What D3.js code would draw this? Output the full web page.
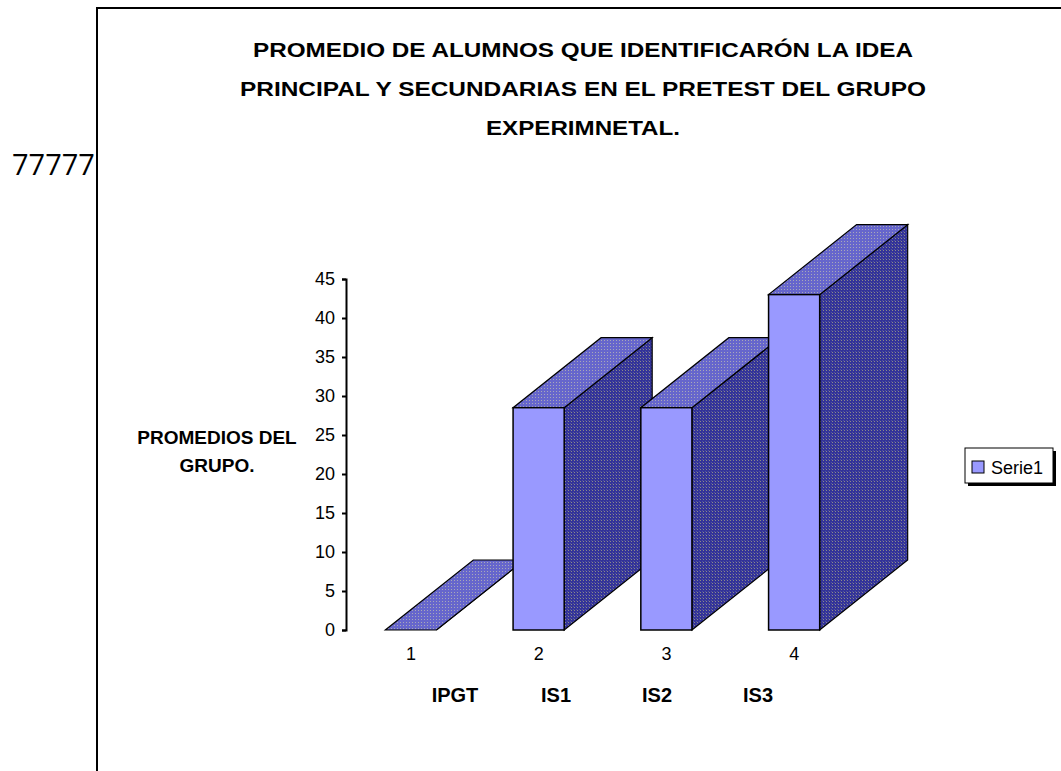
<!DOCTYPE html>
<html>
<head>
<meta charset="utf-8">
<script src="https://cdn.jsdelivr.net/npm/d3@7"></script>
<style>
  body { margin: 0; background: #fff; }
  svg text { font-family: "Liberation Sans", Arial, sans-serif; }
</style>
</head>
<body>
<script>
// data
var categories = [1, 2, 3, 4];
var values = [0, 28.5, 28.5, 43];
var groupLabels = ["IPGT", "IS1", "IS2", "IS3"];
var yTicks = [0, 5, 10, 15, 20, 25, 30, 35, 40, 45];
var titleLines = [
  "PROMEDIO DE ALUMNOS QUE IDENTIFICARÓN LA IDEA",
  "PRINCIPAL Y SECUNDARIAS EN EL PRETEST DEL GRUPO",
  "EXPERIMNETAL."
];
var yTitleLines = ["PROMEDIOS DEL", "GRUPO."];
var seriesName = "Serie1";

var w = 1061;
var h = 771;
var depthX = 88, depthY = -70;

var svg = d3.select('body')
    .append('svg')
    .attr('width', w)
    .attr('height', h);

// dither patterns for the 3d faces
var defs = svg.append('defs');
var sidePat = defs.append('pattern')
    .attr('id', 'sidePat')
    .attr('width', 3).attr('height', 3)
    .attr('patternUnits', 'userSpaceOnUse');
sidePat.append('rect').attr('width', 3).attr('height', 3).attr('fill', '#333399');
sidePat.append('rect').attr('x', 1).attr('y', 1).attr('width', 1).attr('height', 1).attr('fill', '#8a8a8a');
sidePat.append('rect').attr('x', 0).attr('y', 0).attr('width', 1).attr('height', 1).attr('fill', '#55559a');

var topPat = defs.append('pattern')
    .attr('id', 'topPat')
    .attr('width', 3).attr('height', 3)
    .attr('patternUnits', 'userSpaceOnUse');
topPat.append('rect').attr('width', 3).attr('height', 3).attr('fill', '#6666cc');
topPat.append('rect').attr('x', 1).attr('y', 1).attr('width', 1).attr('height', 1).attr('fill', '#a8a8b8');

// frame
svg.append('line')
    .attr('x1', 97).attr('y1', 8).attr('x2', w).attr('y2', 8)
    .attr('stroke', '#000').attr('stroke-width', 2);
svg.append('line')
    .attr('x1', 97).attr('y1', 7).attr('x2', 97).attr('y2', h)
    .attr('stroke', '#000').attr('stroke-width', 2);

svg.append('text')
    .attr('x', 12).attr('y', 175)
    .style('font-family', '"Open Sans", sans-serif')
    .attr('font-size', 29)
    .text('77777');

// title
var titleWidths = [660, 686, 194];
svg.append('g').selectAll('text')
    .data(titleLines)
    .enter()
    .append('text')
    .attr('x', 583)
    .attr('y', (d, i) => 57 + i * 39)
    .attr('text-anchor', 'middle')
    .attr('font-size', 21)
    .attr('font-weight', 'bold')
    .attr('textLength', (d, i) => titleWidths[i])
    .attr('lengthAdjust', 'spacingAndGlyphs')
    .text(d => d);

// scales
var yScale = d3.scaleLinear()
    .domain([0, 45])
    .range([630, 279]);

var xScale = d3.scaleBand()
    .domain(categories)
    .range([347, 858])
    .paddingInner(0.6)
    .paddingOuter(0.3);

var yAxis = d3.axisLeft(yScale)
    .tickValues(yTicks)
    .tickSize(4)
    .tickPadding(7);

var gy = svg.append('g')
    .attr('transform', 'translate(346,0)')
    .call(yAxis);
gy.select('.domain').attr('stroke-width', 2);
gy.selectAll('.tick line').attr('stroke-width', 2);
gy.selectAll('text').attr('font-size', 18).attr('font-family', null);

var xAxis = d3.axisBottom(xScale)
    .tickSize(0)
    .tickPadding(0);
var gx = svg.append('g')
    .attr('transform', 'translate(0,647)')
    .call(xAxis);
gx.select('.domain').remove();
gx.selectAll('text').attr('font-size', 18).attr('font-family', null);

// bars
var bars = svg.append('g').selectAll('g')
    .data(categories.map((c, i) => ({ c: c, v: values[i] })))
    .enter()
    .append('g');

function pts(a) { return a.map(p => p.join(',')).join(' '); }

bars.append('polygon')
    .attr('points', d => {
        var x1 = xScale(d.c) + xScale.bandwidth(), y0 = yScale(0), y1 = yScale(d.v);
        return pts([[x1, y0], [x1, y1], [x1 + depthX, y1 + depthY], [x1 + depthX, y0 + depthY]]);
    })
    .attr('fill', 'url(#sidePat)')
    .attr('stroke', '#000').attr('stroke-width', 1.2);

bars.append('polygon')
    .attr('points', d => {
        var x0 = xScale(d.c), x1 = x0 + xScale.bandwidth(), y1 = yScale(d.v);
        return pts([[x0, y1], [x1, y1], [x1 + depthX, y1 + depthY], [x0 + depthX, y1 + depthY]]);
    })
    .attr('fill', 'url(#topPat)')
    .attr('stroke', '#000').attr('stroke-width', 1.2);

bars.append('rect')
    .attr('x', d => xScale(d.c))
    .attr('y', d => yScale(d.v))
    .attr('width', xScale.bandwidth())
    .attr('height', d => yScale(0) - yScale(d.v))
    .attr('fill', '#9999ff')
    .attr('stroke', '#000').attr('stroke-width', 1.5);

// group labels under the axis
var gScale = d3.scalePoint()
    .domain(groupLabels)
    .range([455, 758]);
svg.append('g').selectAll('text')
    .data(groupLabels)
    .enter()
    .append('text')
    .attr('x', d => gScale(d))
    .attr('y', 702)
    .attr('text-anchor', 'middle')
    .attr('font-size', 20)
    .attr('font-weight', 'bold')
    .text(d => d);

// y title
svg.append('g').selectAll('text')
    .data(yTitleLines)
    .enter()
    .append('text')
    .attr('x', 217)
    .attr('y', (d, i) => 444 + i * 28)
    .attr('text-anchor', 'middle')
    .attr('font-size', 19)
    .attr('font-weight', 'bold')
    .text(d => d);

// legend
var lg = svg.append('g');
lg.append('rect')
    .attr('x', 968).attr('y', 451).attr('width', 88).attr('height', 35)
    .attr('fill', '#000');
lg.append('rect')
    .attr('x', 965).attr('y', 448).attr('width', 88).attr('height', 35)
    .attr('fill', '#fff').attr('stroke', '#000').attr('stroke-width', 1);
lg.append('rect')
    .attr('x', 972).attr('y', 461).attr('width', 12).attr('height', 12)
    .attr('fill', '#9999ff').attr('stroke', '#000').attr('stroke-width', 1);
lg.append('text')
    .attr('x', 991).attr('y', 474)
    .attr('font-size', 18)
    .text(seriesName);
</script>
</body>
</html>
